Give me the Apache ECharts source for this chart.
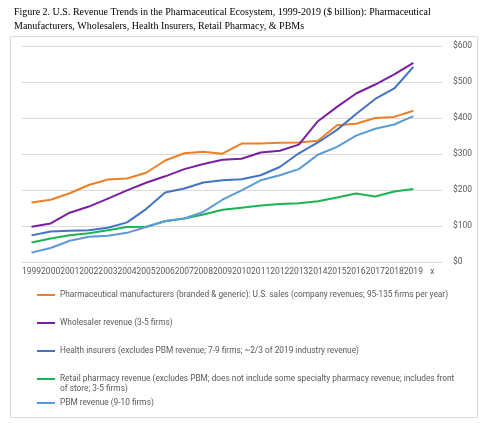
<!DOCTYPE html>
<html>
<head>
<meta charset="utf-8">
<script src="https://cdn.jsdelivr.net/npm/echarts@6/dist/echarts.min.js"></script>
<style>html,body{margin:0;padding:0;background:#fff}#c{width:488px;height:427px}</style>
</head>
<body>
<div id="c"></div>
<script>
var years = ['1999','2000','2001','2002','2003','2004','2005','2006','2007','2008','2009','2010','2011','2012','2013','2014','2015','2016','2017','2018','2019','x'];
var yTicks = [0, 100, 200, 300, 400, 500, 600];
var seriesNames = [
  'Pharmaceutical manufacturers (branded & generic): U.S. sales (company revenues; 95-135 firms per year)',
  'Wholesaler revenue (3-5 firms)',
  'Health insurers (excludes PBM revenue; 7-9 firms; ~2/3 of 2019 industry revenue)',
  'Retail pharmacy revenue (excludes PBM; does not include some specialty pharmacy revenue; includes front\nof store; 3-5 firms)',
  'PBM revenue (9-10 firms)'
];
var pharma     = [165,173,191,214,229,232,248,282,302,306,301,329,329,331,332,337,380,384,400,403,420,null];
var wholesaler = [98,107,137,154,176,199,220,238,258,272,284,287,304,309,326,391,431,468,493,521,553,null];
var insurers   = [74,85,87,88,95,110,147,193,204,221,227,230,241,264,302,332,367,411,453,482,542,null];
var retail     = [54,65,74,80,88,97,98,113,121,132,145,151,157,161,163,169,179,190,182,196,203,null];
var pbm        = [26,39,59,70,73,81,97,114,121,139,173,199,227,241,258,298,320,351,370,382,405,null];

var colors = ['#EF7F26', '#7B1FA2', '#4472C4', '#1DB354', '#5B9BD5'];
var dataSets = [pharma, wholesaler, insurers, retail, pbm];
var legendTops = [290, 318, 346, 364, 398];

var chart = echarts.init(document.getElementById('c'), null, {renderer: 'canvas'});
var legends = seriesNames.map(function (n, i) {
  return {
    data: [n], left: 37, top: legendTops[i], orient: 'vertical',
    icon: 'rect', itemWidth: 18, itemHeight: 2, itemGap: 1, padding: 0,
    selectedMode: false,
    formatter: function (name) { return i === 3 ? '\n' + name : name; },
    textStyle: {fontFamily: 'Roboto', fontSize: 8.3, color: '#595959', lineHeight: 10}
  };
});

chart.setOption({
  animation: false,
  color: colors,
  title: {
    text: 'Figure 2. U.S. Revenue Trends in the Pharmaceutical Ecosystem, 1999-2019 ($ billion): Pharmaceutical\nManufacturers, Wholesalers, Health Insurers, Retail Pharmacy, & PBMs',
    left: 9, top: 1,
    textStyle: {fontFamily: 'Liberation Serif', fontSize: 10, fontWeight: 'normal', color: '#000', lineHeight: 13.5}
  },
  graphic: [{
    type: 'rect', shape: {x: 10.5, y: 36.5, width: 467, height: 381},
    style: {fill: 'none', stroke: '#d9d9d9', lineWidth: 1}, silent: true
  }],
  legend: legends,
  grid: {left: 22, right: 46, top: 46, bottom: 165, containLabel: false},
  xAxis: {
    type: 'category', data: years, boundaryGap: true,
    axisLine: {show: true, lineStyle: {color: '#d9d9d9', width: 1}},
    axisTick: {show: false},
    axisLabel: {interval: 0, fontFamily: 'Roboto', fontSize: 8.5, color: '#595959', margin: 5}
  },
  yAxis: {
    type: 'value', position: 'right', min: yTicks[0], max: yTicks[yTicks.length - 1], interval: 100,
    axisLine: {show: false}, axisTick: {show: false},
    splitLine: {lineStyle: {color: '#d9d9d9', width: 1}},
    axisLabel: {fontFamily: 'Roboto', fontSize: 8.5, color: '#595959', margin: 11,
      formatter: function (v) { return '$' + v; }}
  },
  series: dataSets.map(function (d, i) {
    return {
      name: seriesNames[i], type: 'line', data: d, symbol: 'none',
      lineStyle: {width: 2, color: colors[i]}, itemStyle: {color: colors[i]}
    };
  })
});
</script>
</body>
</html>
